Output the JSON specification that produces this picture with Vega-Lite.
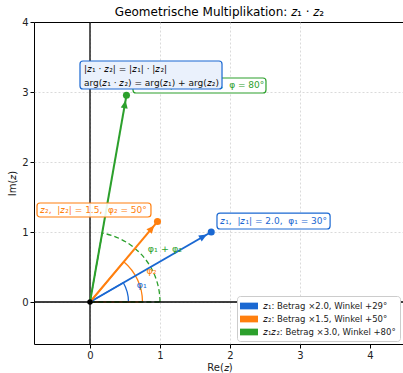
{
  "$schema": "https://vega.github.io/schema/vega-lite/v6.json",
  "width": 371,
  "height": 322,
  "autosize": {"type": "none"},
  "padding": {"left": 34, "top": 22, "right": 0, "bottom": 29},
  "title": {"text": "Geometrische Multiplikation: 𝑧₁ · 𝑧₂", "fontSize": 12, "fontWeight": "normal", "font": "DejaVu Sans", "color": "black", "offset": -2},
  "config": {
    "font": "DejaVu Sans",
    "view": {"stroke": "black", "strokeWidth": 1},
    "axis": {"domain": false, "grid": true, "gridDash": [2, 2], "gridColor": "#d0d0d0", "gridWidth": 0.8, "gridOpacity": {"condition": {"test": "datum.value === 4", "value": 0}, "value": 1}, "tickColor": "black", "tickSize": 4, "labelFontSize": 10, "labelColor": "#222", "titleFontSize": 10, "titleFontWeight": "normal", "titleColor": "#222", "labelFont": "DejaVu Sans", "titleFont": "DejaVu Sans", "format": "d"},
    "legend": {"orient": "none", "legendX": 203, "legendY": 274, "title": null, "symbolType": "M-1.6,-0.6H1.6V0.6H-1.6Z", "symbolSize": 126, "symbolStrokeWidth": 0, "labelFontSize": 8.5, "labelColor": "#222", "fillColor": "white", "strokeColor": "#cccccc", "padding": 4, "symbolOffset": 2, "labelOffset": 8, "rowPadding": 2, "cornerRadius": 3}
  },
  "datasets": {
    "vec": [
      {"k": "z1", "name": "𝑧₁: Betrag ×2.0, Winkel +29°", "o": 0, "x": 1.732, "y": 1.0, "arg": 30, "r": 0.55},
      {"k": "z2", "name": "𝑧₂: Betrag ×1.5, Winkel +50°", "o": 0, "x": 0.964, "y": 1.149, "arg": 50, "r": 0.75},
      {"k": "z12", "name": "𝑧₁𝑧₂: Betrag ×3.0, Winkel +80°", "o": 0, "x": 0.521, "y": 2.954, "arg": 80, "r": 1.0}
    ],
    "arclab": [
      {"k": "z1", "t": "φ₁", "x": 0.74, "y": 0.24},
      {"k": "z2", "t": "φ₂", "x": 0.88, "y": 0.44},
      {"k": "z12", "t": "φ₁ + φ₂", "x": 1.07, "y": 0.76}
    ],
    "boxes": [
      {"k": "z1", "x": 1.814, "x2": 3.43, "y": 1.271, "y2": 1.043},
      {"k": "z2", "x": -0.757, "x2": 0.871, "y": 1.414, "y2": 1.214},
      {"k": "z12", "x": 0.614, "x2": 2.514, "y": 3.2, "y2": 2.986}
    ],
    "labels": [
      {"k": "z1", "t": "𝑧₁,  \u00a0|𝑧₁| = 2.0,  \u00a0φ₁ = 30°", "x": 1.86, "y": 1.157},
      {"k": "z2", "t": "𝑧₂,  \u00a0|𝑧₂| = 1.5,  \u00a0φ₂ = 50°", "x": -0.714, "y": 1.314},
      {"k": "z12", "t": "𝑧₁𝑧₂,  \u00a0|𝑧₁𝑧₂| = 3.0,  \u00a0φ = 80°", "x": 0.77, "y": 3.093}
    ],
    "formula": [
      {"x": -0.143, "x2": 1.886, "y": 3.443, "y2": 3.043}
    ],
    "formulatext": [
      {"t": "|𝑧₁ · 𝑧₂| = |𝑧₁| · |𝑧₂|", "x": -0.086, "y": 3.33},
      {"t": "arg(𝑧₁ · 𝑧₂) = arg(𝑧₁) + arg(𝑧₂)", "x": -0.086, "y": 3.13}
    ],
    "origin": [{"o": 0}]
  },
  "layer": [
    {
      "data": {"name": "vec"},
      "transform": [{"filter": "datum.k !== 'z12'"}],
      "mark": {"type": "arc", "filled": false, "strokeWidth": 1.3},
      "encoding": {
        "x": {"field": "o", "type": "quantitative", "scale": {"domain": [-0.8, 4.5], "nice": false, "zero": false}, "axis": {"values": [0, 1, 2, 3, 4], "title": "Re(𝑧)", "titlePadding": 2}},
        "y": {"field": "o", "type": "quantitative", "scale": {"domain": [-0.6, 4], "nice": false, "zero": false}, "axis": {"values": [0, 1, 2, 3, 4], "title": "Im(𝑧)"}},
        "theta": {"field": "o", "type": "quantitative", "scale": {"domain": [0, 90], "range": [1.5708, 0]}, "stack": null},
        "theta2": {"field": "arg"},
        "radius": {"field": "r", "type": "quantitative", "scale": {"type": "linear", "domain": [0, 1], "range": [0, 70], "zero": true}},
        "radius2": {"field": "o"},
        "stroke": {"field": "k", "type": "nominal", "scale": {"domain": ["z1", "z2", "z12"], "range": ["#1a68d2", "#ff7f0e", "#2ca02c"]}, "legend": null}
      }
    },
    {
      "data": {"name": "vec"},
      "transform": [{"filter": "datum.k === 'z12'"}],
      "mark": {"type": "arc", "filled": false, "strokeWidth": 1.3, "strokeDash": [5, 3]},
      "encoding": {
        "x": {"field": "o", "type": "quantitative"},
        "y": {"field": "o", "type": "quantitative"},
        "theta": {"field": "o", "type": "quantitative", "stack": null},
        "theta2": {"field": "arg"},
        "radius": {"field": "r", "type": "quantitative"},
        "radius2": {"field": "o"},
        "stroke": {"field": "k", "type": "nominal", "legend": null}
      }
    },
    {
      "data": {"name": "origin"},
      "mark": {"type": "rule", "color": "black", "strokeWidth": 1.3},
      "encoding": {
        "x": {"field": "o", "type": "quantitative"}
      }
    },
    {
      "data": {"name": "origin"},
      "mark": {"type": "rule", "color": "black", "strokeWidth": 1.3},
      "encoding": {
        "y": {"field": "o", "type": "quantitative"}
      }
    },
    {
      "data": {"name": "vec"},
      "mark": {"type": "rule", "strokeWidth": 2},
      "encoding": {
        "x": {"field": "o", "type": "quantitative"},
        "y": {"field": "o", "type": "quantitative"},
        "x2": {"field": "x"},
        "y2": {"field": "y"},
        "stroke": {"field": "k", "type": "nominal", "legend": null}
      }
    },
    {
      "data": {"name": "vec"},
      "mark": {"type": "point", "filled": true, "opacity": 1, "shape": "M0,1L-0.7,2.6L0.7,2.6Z", "size": 100, "strokeWidth": 0},
      "encoding": {
        "x": {"field": "x", "type": "quantitative"},
        "y": {"field": "y", "type": "quantitative"},
        "angle": {"field": "arg", "type": "quantitative", "scale": {"domain": [0, 90], "range": [90, 0]}},
        "fill": {"field": "k", "type": "nominal", "scale": {"domain": ["z1", "z2", "z12"], "range": ["#1a68d2", "#ff7f0e", "#2ca02c"]}, "legend": null}
      }
    },
    {
      "data": {"name": "vec"},
      "mark": {"type": "point", "filled": true, "opacity": 1, "size": 50},
      "encoding": {
        "x": {"field": "x", "type": "quantitative"},
        "y": {"field": "y", "type": "quantitative"},
        "color": {"field": "name", "type": "nominal", "sort": null, "scale": {"domain": ["𝑧₁: Betrag ×2.0, Winkel +29°", "𝑧₂: Betrag ×1.5, Winkel +50°", "𝑧₁𝑧₂: Betrag ×3.0, Winkel +80°"], "range": ["#1a68d2", "#ff7f0e", "#2ca02c"]}}
      }
    },
    {
      "data": {"name": "origin"},
      "mark": {"type": "point", "filled": true, "opacity": 1, "size": 30, "color": "black"},
      "encoding": {
        "x": {"field": "o", "type": "quantitative"},
        "y": {"field": "o", "type": "quantitative"}
      }
    },
    {
      "data": {"name": "arclab"},
      "mark": {"type": "text", "fontSize": 9.5, "align": "center", "baseline": "middle"},
      "encoding": {
        "x": {"field": "x", "type": "quantitative"},
        "y": {"field": "y", "type": "quantitative"},
        "text": {"field": "t"},
        "fill": {"field": "k", "type": "nominal", "legend": null}
      }
    },
    {
      "data": {"name": "boxes"},
      "mark": {"type": "rect", "fill": "white", "fillOpacity": 0.9, "strokeWidth": 1.2, "cornerRadius": 3},
      "encoding": {
        "x": {"field": "x", "type": "quantitative"},
        "x2": {"field": "x2"},
        "y": {"field": "y", "type": "quantitative"},
        "y2": {"field": "y2"},
        "stroke": {"field": "k", "type": "nominal", "legend": null}
      }
    },
    {
      "data": {"name": "labels"},
      "mark": {"type": "text", "fontSize": 9, "align": "left", "baseline": "middle"},
      "encoding": {
        "x": {"field": "x", "type": "quantitative"},
        "y": {"field": "y", "type": "quantitative"},
        "text": {"field": "t"},
        "fill": {"field": "k", "type": "nominal", "legend": null}
      }
    },
    {
      "data": {"name": "formula"},
      "mark": {"type": "rect", "fill": "#eaf1fc", "stroke": "#1a68d2", "strokeWidth": 1.2, "cornerRadius": 3},
      "encoding": {
        "x": {"field": "x", "type": "quantitative"},
        "x2": {"field": "x2"},
        "y": {"field": "y", "type": "quantitative"},
        "y2": {"field": "y2"}
      }
    },
    {
      "data": {"name": "formulatext"},
      "mark": {"type": "text", "fontSize": 9, "align": "left", "baseline": "middle", "color": "#111"},
      "encoding": {
        "x": {"field": "x", "type": "quantitative"},
        "y": {"field": "y", "type": "quantitative"},
        "text": {"field": "t"}
      }
    }
  ]
}
